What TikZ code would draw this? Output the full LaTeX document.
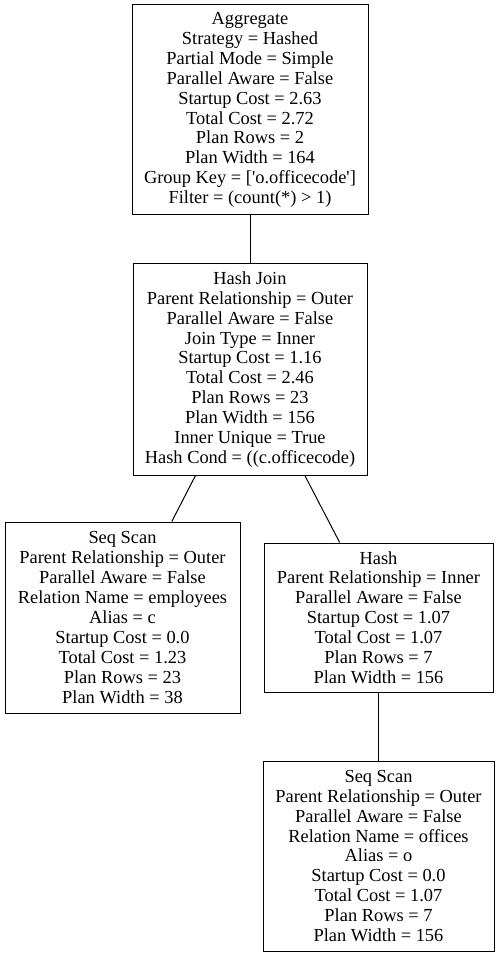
\documentclass[tikz,border=0pt]{standalone}
\usepackage{fontspec}
\setmainfont{Liberation Serif}[Ligatures=TeXOff]
\begin{document}
\begin{tikzpicture}[x=1pt,y=-1pt,
  planbox/.style={draw=black,line width=1pt,inner sep=0pt,align=center,
    font=\fontsize{18.4}{19.9}\selectfont},
  edge/.style={draw=black,line width=1pt}]
\useasboundingbox (0,0) rectangle (499,957);
\node[planbox,minimum width=236pt,minimum height=210pt] (agg) at (250,110) {Aggregate\\Strategy = Hashed\\Partial Mode = Simple\\Parallel Aware = False\\Startup Cost = 2.63\\Total Cost = 2.72\\Plan Rows = 2\\Plan Width = 164\\Group Key = ['o.officecode']\\Filter = (count(*) > 1)};
\node[planbox,minimum width=234pt,minimum height=211pt] (hj) at (250,369.5) {Hash Join\\Parent Relationship = Outer\\Parallel Aware = False\\Join Type = Inner\\Startup Cost = 1.16\\Total Cost = 2.46\\Plan Rows = 23\\Plan Width = 156\\Inner Unique = True\\Hash Cond = ((c.officecode)};
\node[planbox,minimum width=235pt,minimum height=191pt] (ssl) at (122.5,617.5) {Seq Scan\\Parent Relationship = Outer\\Parallel Aware = False\\Relation Name = employees\\Alias = c\\Startup Cost = 0.0\\Total Cost = 1.23\\Plan Rows = 23\\Plan Width = 38};
\node[planbox,minimum width=229pt,minimum height=149pt] (hash) at (378.5,617.5) {Hash\\Parent Relationship = Inner\\Parallel Aware = False\\Startup Cost = 1.07\\Total Cost = 1.07\\Plan Rows = 7\\Plan Width = 156};
\node[planbox,minimum width=231pt,minimum height=190pt] (ssb) at (378.5,856) {Seq Scan\\Parent Relationship = Outer\\Parallel Aware = False\\Relation Name = offices\\Alias = o\\Startup Cost = 0.0\\Total Cost = 1.07\\Plan Rows = 7\\Plan Width = 156};
\draw[edge] (agg) -- (hj);
\draw[edge] (hj) -- (ssl);
\draw[edge] (hj) -- (hash);
\draw[edge] (hash) -- (ssb);
\end{tikzpicture}
\end{document}
